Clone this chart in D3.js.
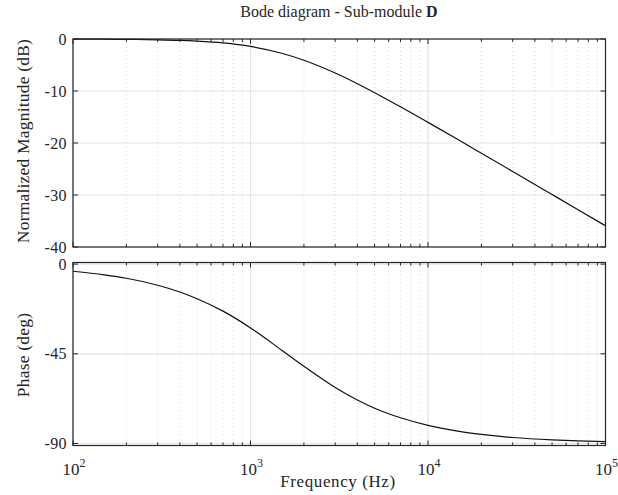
<!DOCTYPE html>
<html>
<head>
<meta charset="utf-8">
<script src="https://cdn.jsdelivr.net/npm/d3@7"></script>
<style>
  body { margin: 0; background: #fff; }
  text { font-family: "Liberation Serif", "DejaVu Serif", serif; fill: #262626; }
</style>
</head>
<body>
<script>
// values
var freq      = [100, 150, 200, 300, 400, 500, 700, 1000, 1500, 2000, 3000, 4000, 5000, 7000, 10000, 15000, 20000, 30000, 50000, 70000, 100000];
var magnitude = [-0.02, -0.04, -0.07, -0.15, -0.26, -0.41, -0.76, -1.43, -2.74, -4.09, -6.55, -8.60, -10.32, -13.04, -16.03, -19.49, -21.97, -25.47, -29.90, -32.82, -35.92];
var phase     = [-3.6, -5.4, -7.1, -10.6, -14.0, -17.4, -23.6, -32.0, -43.2, -51.3, -61.9, -68.2, -72.3, -77.1, -80.9, -83.9, -85.4, -87.0, -88.2, -88.7, -89.1];
var magTicks = [0, -10, -20, -30, -40];
var phaseTicks = [0, -45, -90];
var decades = [100, 1000, 10000, 100000];

var width = 618, height = 495;
var left = 73, right = 605.5;

var svg = d3.select('body').append('svg')
  .attr('width', width)
  .attr('height', height);

var x = d3.scaleLog().domain([100, 100000]).range([left, right]);

// minor tick positions (2..9 of each decade)
var minors = [];
decades.slice(0, 3).forEach(function(d) {
  for (var k = 2; k <= 9; k++) minors.push(d * k);
});

function drawPanel(top, bottom, yDomain, yTicks, values) {
  var y = d3.scaleLinear().domain(yDomain).range([bottom, top]);
  var g = svg.append('g');

  // minor grid
  g.selectAll('.minor').data(minors).enter().append('line')
    .attr('x1', d => x(d)).attr('x2', d => x(d))
    .attr('y1', top).attr('y2', bottom)
    .attr('stroke', '#d0d0d0').attr('stroke-width', 0.8)
    .attr('stroke-dasharray', '1,3');

  // major grid
  g.selectAll('.vmaj').data(decades).enter().append('line')
    .attr('x1', d => x(d)).attr('x2', d => x(d))
    .attr('y1', top).attr('y2', bottom)
    .attr('stroke', '#e3e3e3').attr('stroke-width', 1.2);
  g.selectAll('.hmaj').data(yTicks).enter().append('line')
    .attr('x1', left).attr('x2', right)
    .attr('y1', d => y(d)).attr('y2', d => y(d))
    .attr('stroke', '#e3e3e3').attr('stroke-width', 1.2);

  // curve
  var line = d3.line()
    .x((d, i) => x(freq[i]))
    .y(d => y(d))
    .curve(d3.curveMonotoneX);
  g.append('path')
    .datum(values)
    .attr('d', line)
    .attr('fill', 'none')
    .attr('stroke', '#111')
    .attr('stroke-width', 1.2);

  // ticks inside the box
  var tk = '#262626';
  decades.forEach(function(d) {
    g.append('line').attr('x1', x(d)).attr('x2', x(d)).attr('y1', bottom).attr('y2', bottom - 5).attr('stroke', tk);
    g.append('line').attr('x1', x(d)).attr('x2', x(d)).attr('y1', top).attr('y2', top + 5).attr('stroke', tk);
  });
  minors.forEach(function(d) {
    g.append('line').attr('x1', x(d)).attr('x2', x(d)).attr('y1', bottom).attr('y2', bottom - 3).attr('stroke', tk);
    g.append('line').attr('x1', x(d)).attr('x2', x(d)).attr('y1', top).attr('y2', top + 3).attr('stroke', tk);
  });
  yTicks.forEach(function(d) {
    g.append('line').attr('x1', left).attr('x2', left + 5).attr('y1', y(d)).attr('y2', y(d)).attr('stroke', tk);
    g.append('line').attr('x1', right).attr('x2', right - 5).attr('y1', y(d)).attr('y2', y(d)).attr('stroke', tk);
    g.append('text')
      .attr('x', left - 6).attr('y', y(d))
      .attr('dy', '0.35em')
      .attr('text-anchor', 'end')
      .style('font-size', '16px')
      .style('letter-spacing', '0.4px')
      .text(d);
  });

  // box
  g.append('rect')
    .attr('x', left).attr('y', top)
    .attr('width', right - left).attr('height', bottom - top)
    .attr('fill', 'none').attr('stroke', tk).attr('stroke-width', 1.2);
  return y;
}

drawPanel(39, 247, [-40, 0], magTicks, magnitude);
drawPanel(262.5, 445.5, [-91, 0.8], phaseTicks, phase);

// x tick labels 10^n
decades.forEach(function(d) {
  var t = svg.append('text')
    .attr('x', x(d) + 1).attr('y', 475)
    .attr('text-anchor', 'middle')
    .style('font-size', '17px');
  t.append('tspan').text('10');
  t.append('tspan').attr('dy', -8).style('font-size', '12px').text(Math.log10(d));
});

// titles
var title = svg.append('text')
  .attr('x', 339).attr('y', 17)
  .attr('text-anchor', 'middle')
  .style('font-size', '16px');
title.append('tspan').text('Bode diagram - Sub-module ');
title.append('tspan').style('font-weight', 'bold').text('D');

svg.append('text')
  .attr('x', 338).attr('y', 487)
  .attr('text-anchor', 'middle')
  .style('font-size', '17px')
  .style('letter-spacing', '0.6px')
  .text('Frequency (Hz)');

svg.append('text')
  .attr('transform', 'translate(29,141) rotate(-90)')
  .attr('text-anchor', 'middle')
  .style('font-size', '17.5px')
  .style('letter-spacing', '0.2px')
  .text('Normalized Magnitude (dB)');

svg.append('text')
  .attr('transform', 'translate(29,355) rotate(-90)')
  .attr('text-anchor', 'middle')
  .style('font-size', '17.5px')
  .style('letter-spacing', '0.2px')
  .text('Phase (deg)');
</script>
</body>
</html>
